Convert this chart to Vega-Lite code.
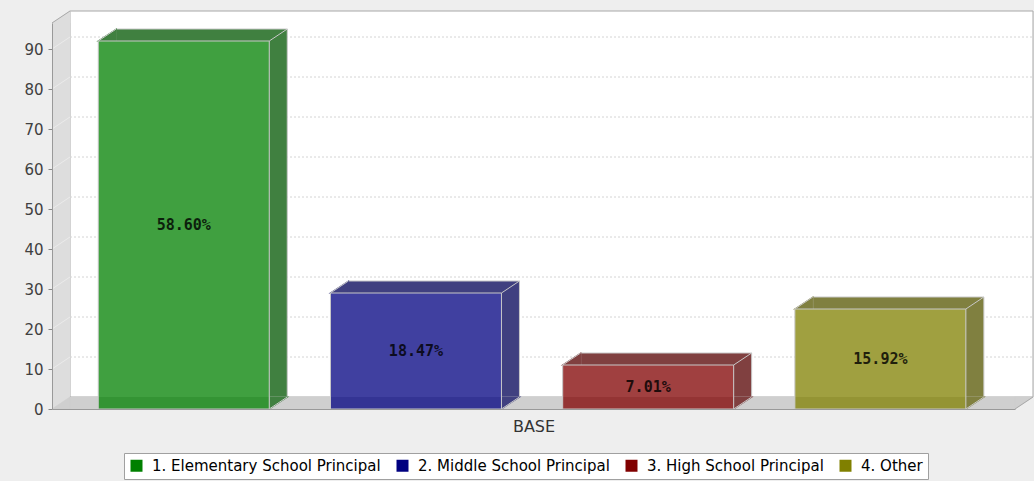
{
  "$schema": "https://vega.github.io/schema/vega-lite/v6.json",
  "width": 963,
  "height": 386,
  "autosize": {"type": "none"},
  "padding": {"left": 52, "top": 23, "right": 19, "bottom": 72},
  "background": "#eeeeee",
  "config": {"view": {"stroke": null}, "font": "DejaVu Sans"},
  "datasets": {
    "bars": [
      {"principal": "1. Elementary School Principal", "count": 92, "share": 0.586},
      {"principal": "2. Middle School Principal", "count": 29, "share": 0.1847},
      {"principal": "3. High School Principal", "count": 11, "share": 0.0701},
      {"principal": "4. Other", "count": 25, "share": 0.1592}
    ],
    "ticks": [
      {"v": 10}, {"v": 20}, {"v": 30}, {"v": 40}, {"v": 50},
      {"v": 60}, {"v": 70}, {"v": 80}, {"v": 90}
    ],
    "frame": [{}]
  },
  "data": {"name": "bars"},
  "layer": [
    {
      "data": {"name": "frame"},
      "mark": {"type": "rect", "fill": "#ffffff", "stroke": "#a8a8a8", "strokeWidth": 1, "xOffset": 18, "x2Offset": 18, "yOffset": -12, "y2Offset": -12},
      "encoding": {
        "x": {"datum": 0, "type": "quantitative", "scale": {"domain": [0, 1], "nice": false, "zero": false}, "axis": null},
        "x2": {"datum": 1},
        "y": {"datum": 96.5, "type": "quantitative", "scale": {"domain": [0, 96.5], "nice": false, "zero": false}, "axis": null},
        "y2": {"datum": 0}
      }
    },
    {
      "data": {"name": "ticks"},
      "mark": {"type": "rule", "stroke": "#d4d4d4", "strokeDash": [2, 2], "strokeWidth": 1, "xOffset": 18, "x2Offset": 18, "yOffset": -12, "y2Offset": -12},
      "encoding": {
        "x": {"datum": 0, "type": "quantitative", "scale": {"domain": [0, 1], "nice": false, "zero": false}, "axis": null},
        "x2": {"datum": 1},
        "y": {"field": "v", "type": "quantitative", "scale": {"domain": [0, 96.5], "nice": false, "zero": false}, "axis": null}
      }
    },
    {
      "data": {"name": "frame"},
      "mark": {"type": "rect", "fill": "#dddddd", "x2Offset": 18},
      "encoding": {
        "x": {"datum": 0, "type": "quantitative", "scale": {"domain": [0, 1], "nice": false, "zero": false}, "axis": null},
        "x2": {"datum": 0},
        "y": {"datum": 96.5, "type": "quantitative", "scale": {"domain": [0, 96.5], "nice": false, "zero": false}, "axis": null},
        "y2": {"datum": 0}
      }
    },
    {
      "data": {"name": "frame"},
      "mark": {"type": "point", "shape": "M0,0L1,-0.6667L1,0Z", "size": 1296, "filled": true, "fill": "#dddddd", "stroke": "#dddddd", "strokeWidth": 0.6, "opacity": 1},
      "encoding": {
        "x": {"datum": 0, "type": "quantitative", "scale": {"domain": [0, 1], "nice": false, "zero": false}, "axis": null},
        "y": {"datum": 96.5, "type": "quantitative", "scale": {"domain": [0, 96.5], "nice": false, "zero": false}, "axis": null}
      }
    },
    {
      "data": {"name": "ticks"},
      "mark": {"type": "point", "shape": "M0,0L1,-0.6667", "size": 1296, "filled": false, "stroke": "#ebebeb", "strokeWidth": 1, "opacity": 1},
      "encoding": {
        "x": {"datum": 0, "type": "quantitative", "scale": {"domain": [0, 1], "nice": false, "zero": false}, "axis": null},
        "y": {"field": "v", "type": "quantitative", "scale": {"domain": [0, 96.5], "nice": false, "zero": false}, "axis": null}
      }
    },
    {
      "data": {"name": "frame"},
      "mark": {"type": "rect", "fill": "#cfcfcf", "xOffset": 18, "y2Offset": -12},
      "encoding": {
        "x": {"datum": 0, "type": "quantitative", "scale": {"domain": [0, 1], "nice": false, "zero": false}, "axis": null},
        "x2": {"datum": 1},
        "y": {"datum": 0, "type": "quantitative", "scale": {"domain": [0, 96.5], "nice": false, "zero": false}, "axis": null},
        "y2": {"datum": 0}
      }
    },
    {
      "data": {"name": "frame"},
      "mark": {"type": "point", "shape": "M0,0L1,-0.6667L1,0Z", "size": 1296, "filled": true, "fill": "#cfcfcf", "stroke": "#cfcfcf", "strokeWidth": 0.6, "opacity": 1},
      "encoding": {
        "x": {"datum": 0, "type": "quantitative", "scale": {"domain": [0, 1], "nice": false, "zero": false}, "axis": null},
        "y": {"datum": 0, "type": "quantitative", "scale": {"domain": [0, 96.5], "nice": false, "zero": false}, "axis": null}
      }
    },
    {
      "data": {"name": "frame"},
      "mark": {"type": "point", "shape": "M0,0L1,-0.6667L0,-0.6667Z", "size": 1296, "filled": true, "fill": "#cfcfcf", "stroke": "#cfcfcf", "strokeWidth": 0.6, "opacity": 1},
      "encoding": {
        "x": {"datum": 1, "type": "quantitative", "scale": {"domain": [0, 1], "nice": false, "zero": false}, "axis": null},
        "y": {"datum": 0, "type": "quantitative", "scale": {"domain": [0, 96.5], "nice": false, "zero": false}, "axis": null}
      }
    },
    {
      "data": {"name": "frame"},
      "mark": {"type": "point", "shape": "M0,0L1,-0.6667", "size": 1296, "filled": false, "stroke": "#a8a8a8", "strokeWidth": 1, "opacity": 1},
      "encoding": {
        "x": {"datum": 0, "type": "quantitative", "scale": {"domain": [0, 1], "nice": false, "zero": false}, "axis": null},
        "y": {"datum": 96.5, "type": "quantitative", "scale": {"domain": [0, 96.5], "nice": false, "zero": false}, "axis": null}
      }
    },
    {
      "data": {"name": "frame"},
      "mark": {"type": "point", "shape": "M0,0L1,-0.6667", "size": 1296, "filled": false, "stroke": "#a8a8a8", "strokeWidth": 1, "opacity": 1},
      "encoding": {
        "x": {"datum": 1, "type": "quantitative", "scale": {"domain": [0, 1], "nice": false, "zero": false}, "axis": null},
        "y": {"datum": 0, "type": "quantitative", "scale": {"domain": [0, 96.5], "nice": false, "zero": false}, "axis": null}
      }
    },
    {
      "mark": {"type": "bar", "opacity": 1, "stroke": "#c8c8c8", "strokeWidth": 1, "xOffset": 18, "x2Offset": 18, "yOffset": -12, "y2Offset": -12},
      "encoding": {
        "x": {"field": "principal", "type": "nominal", "sort": null, "scale": {"type": "band", "paddingInner": 0.2636, "paddingOuter": 0.2054, "align": 0.485}, "axis": null},
        "y": {"field": "count", "type": "quantitative", "scale": {"domain": [0, 96.5], "nice": false, "zero": false}, "axis": null},
        "fill": {"field": "principal", "type": "nominal", "scale": {"range": ["#408040", "#404080", "#804040", "#808040"]}, "legend": null}
      }
    },
    {
      "mark": {"type": "point", "shape": "M0,0L1,-0.6667L1,0Z", "size": 1296, "filled": true, "strokeWidth": 1.2, "opacity": 1},
      "encoding": {
        "x": {"field": "principal", "type": "nominal", "sort": null, "bandPosition": 0, "scale": {"type": "band", "paddingInner": 0.2636, "paddingOuter": 0.2054, "align": 0.485}, "axis": null},
        "y": {"field": "count", "type": "quantitative", "scale": {"domain": [0, 96.5], "nice": false, "zero": false}, "axis": null},
        "fill": {"field": "principal", "type": "nominal", "legend": null},
        "stroke": {"field": "principal", "type": "nominal", "scale": {"range": ["#408040", "#404080", "#804040", "#808040"]}, "legend": null}
      }
    },
    {
      "mark": {"type": "point", "shape": "M0,0L1,-0.6667L0,-0.6667Z", "size": 1296, "filled": true, "strokeWidth": 1.2, "opacity": 1},
      "encoding": {
        "x": {"field": "principal", "type": "nominal", "sort": null, "bandPosition": 1, "scale": {"type": "band", "paddingInner": 0.2636, "paddingOuter": 0.2054, "align": 0.485}, "axis": null},
        "y": {"datum": 0, "type": "quantitative", "scale": {"domain": [0, 96.5], "nice": false, "zero": false}, "axis": null},
        "fill": {"field": "principal", "type": "nominal", "legend": null},
        "stroke": {"field": "principal", "type": "nominal", "legend": null}
      }
    },
    {
      "mark": {"type": "bar", "fill": "#ffffff", "opacity": 1},
      "encoding": {
        "x": {"field": "principal", "type": "nominal", "sort": null, "scale": {"type": "band", "paddingInner": 0.2636, "paddingOuter": 0.2054, "align": 0.485}, "axis": null},
        "y": {"field": "count", "type": "quantitative", "scale": {"domain": [0, 96.5], "nice": false, "zero": false}, "axis": null}
      }
    },
    {
      "mark": {"type": "bar", "fill": "#cfcfcf", "opacity": 1, "y2Offset": -12},
      "encoding": {
        "x": {"field": "principal", "type": "nominal", "sort": null, "scale": {"type": "band", "paddingInner": 0.2636, "paddingOuter": 0.2054, "align": 0.485}, "axis": null},
        "y": {"datum": 0, "type": "quantitative", "scale": {"domain": [0, 96.5], "nice": false, "zero": false}, "axis": null},
        "y2": {"datum": 0}
      }
    },
    {
      "mark": {"type": "bar", "opacity": 1, "fillOpacity": 0.75, "stroke": "#c8c8c8", "strokeWidth": 1},
      "encoding": {
        "x": {
          "field": "principal", "type": "nominal", "sort": null,
          "scale": {"type": "band", "paddingInner": 0.2636, "paddingOuter": 0.2054, "align": 0.485},
          "axis": {"title": "BASE", "labels": false, "ticks": false, "grid": false, "domainColor": "#999999", "titleFont": "DejaVu Sans", "titleFontSize": 16, "titleFontWeight": "normal", "titleColor": "#333333", "titlePadding": 9, "zindex": 1}
        },
        "y": {
          "field": "count", "type": "quantitative",
          "scale": {"domain": [0, 96.5], "nice": false, "zero": false},
          "axis": {"title": null, "values": [0, 10, 20, 30, 40, 50, 60, 70, 80, 90], "grid": false, "labelFont": "DejaVu Sans", "labelFontSize": 15, "labelColor": "#404040", "labelPadding": 5, "tickSize": 4, "tickColor": "#888888", "domainColor": "#999999", "zindex": 1}
        },
        "color": {
          "field": "principal", "type": "nominal",
          "scale": {"range": ["#008000", "#000080", "#800000", "#808000"]},
          "legend": {
            "title": null, "orient": "none", "legendX": 72, "legendY": 430, "direction": "horizontal",
            "fillColor": "#ffffff", "strokeColor": "#a0a0a0", "padding": 5, "cornerRadius": 0,
            "symbolType": "square", "symbolSize": 144, "symbolStrokeWidth": 0, "symbolOpacity": 1,
            "labelFont": "DejaVu Sans", "labelFontSize": 15, "labelColor": "#000000", "labelOffset": 8, "labelLimit": 400, "columnPadding": 14,
            "encode": {"symbols": {"update": {"fillOpacity": {"value": 1}, "opacity": {"value": 1}}}}
          }
        }
      }
    },
    {
      "mark": {"type": "point", "shape": "M0,0L1,-0.6667", "size": 1296, "filled": false, "stroke": "#c8c8c8", "strokeWidth": 1, "opacity": 1},
      "encoding": {
        "x": {"field": "principal", "type": "nominal", "sort": null, "bandPosition": 0, "scale": {"type": "band", "paddingInner": 0.2636, "paddingOuter": 0.2054, "align": 0.485}, "axis": null},
        "y": {"field": "count", "type": "quantitative", "scale": {"domain": [0, 96.5], "nice": false, "zero": false}, "axis": null}
      }
    },
    {
      "mark": {"type": "point", "shape": "M0,0L1,-0.6667", "size": 1296, "filled": false, "stroke": "#c8c8c8", "strokeWidth": 1, "opacity": 1},
      "encoding": {
        "x": {"field": "principal", "type": "nominal", "sort": null, "bandPosition": 1, "scale": {"type": "band", "paddingInner": 0.2636, "paddingOuter": 0.2054, "align": 0.485}, "axis": null},
        "y": {"field": "count", "type": "quantitative", "scale": {"domain": [0, 96.5], "nice": false, "zero": false}, "axis": null}
      }
    },
    {
      "mark": {"type": "point", "shape": "M0,0L1,-0.6667", "size": 1296, "filled": false, "stroke": "#c8c8c8", "strokeWidth": 1, "opacity": 1},
      "encoding": {
        "x": {"field": "principal", "type": "nominal", "sort": null, "bandPosition": 1, "scale": {"type": "band", "paddingInner": 0.2636, "paddingOuter": 0.2054, "align": 0.485}, "axis": null},
        "y": {"datum": 0, "type": "quantitative", "scale": {"domain": [0, 96.5], "nice": false, "zero": false}, "axis": null}
      }
    },
    {
      "mark": {"type": "text", "font": "DejaVu Sans Mono", "fontWeight": "bold", "fontSize": 15, "fill": "#000000", "opacity": 0.8, "align": "center", "baseline": "middle"},
      "encoding": {
        "x": {"field": "principal", "type": "nominal", "sort": null, "scale": {"type": "band", "paddingInner": 0.2636, "paddingOuter": 0.2054, "align": 0.485}, "axis": null},
        "y": {"field": "count", "type": "quantitative", "scale": {"domain": [0, 193], "nice": false, "zero": false}, "axis": null},
        "text": {"field": "share", "type": "quantitative", "format": ".2%"}
      }
    }
  ],
  "resolve": {"scale": {"x": "independent", "y": "independent"}}
}
